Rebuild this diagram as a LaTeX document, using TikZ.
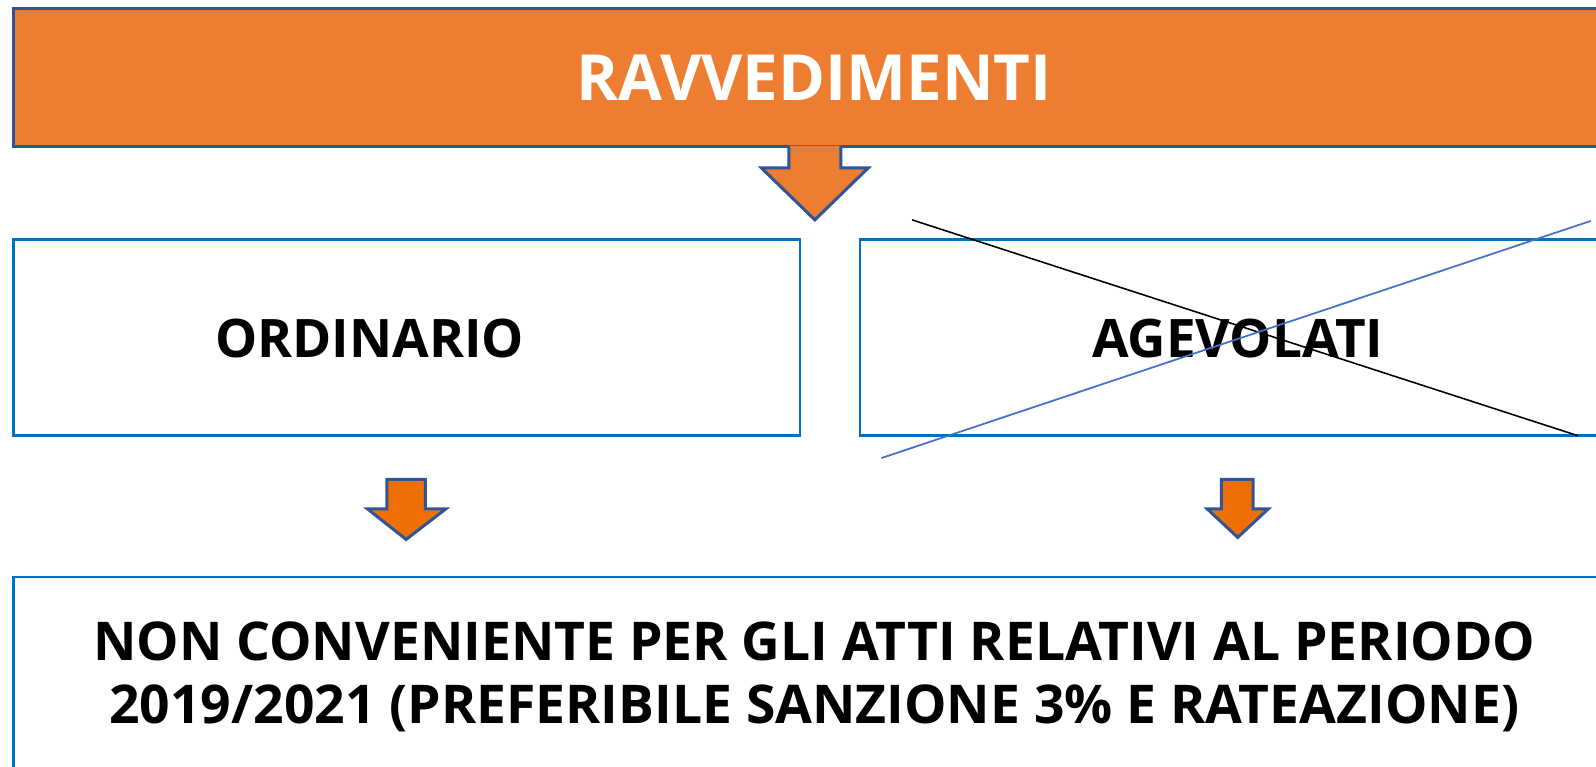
\documentclass[tikz,border=0pt]{standalone}
\usepackage{fontspec}
\setmainfont{Open Sans}
\usepackage{tikz}
\usetikzlibrary{positioning}
\definecolor{titleorange}{HTML}{ED7D31}
\definecolor{arroworange}{HTML}{EE7004}
\definecolor{darkedge}{HTML}{2F5597}
\definecolor{boxedge}{HTML}{0070C0}
\definecolor{crossblue}{HTML}{4472C4}
\tikzstyle{titlebox} = [draw=darkedge, line width=0.9pt, fill=titleorange]
\tikzstyle{mainbox} = [draw=boxedge, line width=0.75pt]
\tikzstyle{downarrow} = [draw=darkedge, line width=0.85pt, line join=miter]

\begin{document}
\begin{tikzpicture}[x=0.010179cm, y=-0.010179cm]
    \useasboundingbox (0,0) rectangle (1568,753.5);

      % Boxes
      \draw[titlebox] (13,8) rectangle (1640,144);
      \draw[mainbox] (13,235) rectangle (786,428);
      \draw[mainbox] (845,235) rectangle (1640,428);
      \draw[mainbox] (13,567) rectangle (1640,820);

      % Nodes
      \node[text=white, font=\bfseries\fontsize{18.1}{21}\selectfont] (title) at (800,76) {RAVVEDIMENTI};
      \node[font=\bfseries\fontsize{15.1}{18}\selectfont] (ord) at (363,333) {ORDINARIO};
      \node[font=\bfseries\fontsize{15.1}{18}\selectfont] (agev) at (1216,333) {AGEVOLATI};
      \node[font=\bfseries\fontsize{15.2}{18}\selectfont, align=center] (note) at (800,665)
        {NON CONVENIENTE PER GLI ATTI RELATIVI AL PERIODO\\[0pt]2019/2021 (PREFERIBILE SANZIONE 3\% E RATEAZIONE)};

      % Arrows
      \draw[downarrow, fill=titleorange] (775,143) -- (775,165) -- (748,165) -- (800.5,216)
        -- (853,165) -- (826,165) -- (826,143);
      \draw[downarrow, fill=arroworange] (380,471) -- (380,500) -- (361,500) -- (399,530)
        -- (438,500) -- (418,500) -- (418,471) -- cycle;
      \draw[downarrow, fill=arroworange] (1200,471) -- (1200,500) -- (1186,500) -- (1216,528)
        -- (1246,500) -- (1231,500) -- (1231,471) -- cycle;

      % Cross
      \coordinate (c1) at (896,216);
      \coordinate (c2) at (1550,428);
      \coordinate (c3) at (866,450);
      \coordinate (c4) at (1563,217);
      \draw[black, line width=0.45pt] (c1) -- (c2);
      \draw[crossblue, line width=0.5pt] (c3) -- (c4);

  \end{tikzpicture}
\end{document}
